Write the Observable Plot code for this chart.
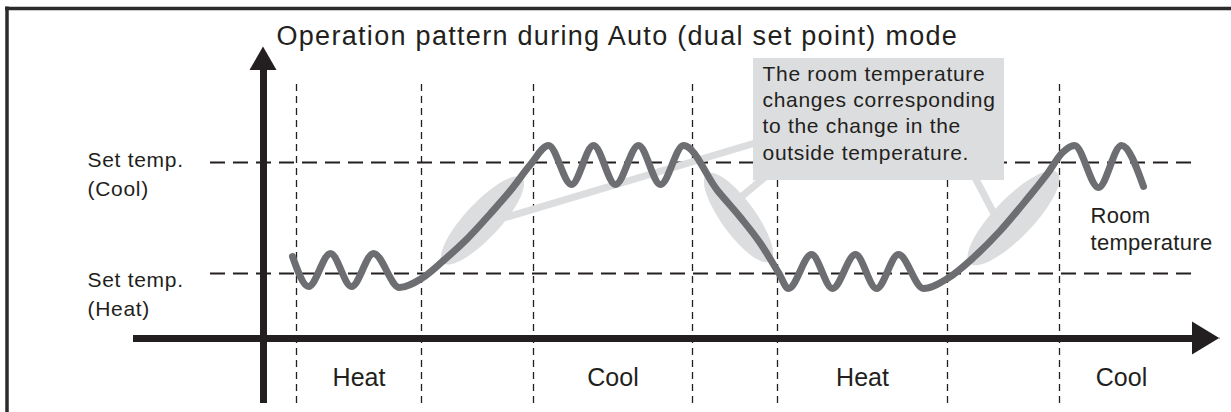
<!DOCTYPE html>
<html>
<head>
<meta charset="utf-8">
<script src="https://cdn.jsdelivr.net/npm/d3@7"></script>
<script src="https://cdn.jsdelivr.net/npm/@observablehq/plot@0.6"></script>
<style>
  html, body { margin: 0; padding: 0; background: #fff; }
  svg { display: block; }
</style>
</head>
<body>
<div id="chart"></div>
<script>
// ---------------- data ----------------
// time: arbitrary units (0 = vertical axis); temperature: relative units (0 = time axis)
const titleText = "Operation pattern during Auto (dual set point) mode";

const setPointLabels = ["Set temp.\n(Cool)", "Set temp.\n(Heat)"];
const setPointValues = [17.6, 6.5];

const modeNames = ["Heat", "Cool", "Heat", "Cool"];
const modeStart = [3.3, 27.0, 51.4, 79.6];
const modeEnd   = [15.8, 42.9, 68.4, 92.0];   // last mode continues past the chart

const roomTime = [2.9, 4.5, 6.7, 8.8, 11.0, 13.6, 15.8, 18.0, 20.4, 22.7, 24.7, 26.7, 28.5,
                  30.8, 33.0, 35.2, 37.5, 39.7, 42.0, 45.4, 47.7, 49.7, 51.5, 52.5,
                  54.8, 56.9, 59.2, 61.3, 63.5, 66.0, 68.4, 71.0, 73.7, 76.4, 78.4, 79.9, 81.1,
                  83.5, 85.8, 88.0];
const roomTemp = [8.2, 5.2, 8.5, 5.2, 8.5, 5.1, 6.0, 7.8, 10.0, 12.5, 14.8, 17.4, 19.3,
                  15.4, 19.3, 15.4, 19.3, 15.4, 19.3, 14.8, 12.1, 9.5, 6.6, 5.0,
                  8.4, 5.0, 8.4, 5.0, 8.4, 5.0, 6.0, 8.1, 10.8, 14.0, 16.5, 18.6, 19.3,
                  15.1, 19.3, 15.2];

// highlighted transitions (outside-temperature driven changes)
const highlightTime   = [21.9, 47.5, 75.0];
const highlightTemp   = [11.8, 12.1, 12.05];
const highlightLength = [5.8, 5.4, 6.3];
const highlightWidth  = [1.75, 1.7, 1.95];
const highlightAngle  = [47, -54, 46];

const calloutText = "The room temperature\nchanges corresponding\nto the change in the\noutside temperature.";
const seriesLabel = "Room\ntemperature";

// ---------------- layout ----------------
const FONT = "'Liberation Sans', Arial, Helvetica, sans-serif";
const INK = "#231f20";
const CURVE = "#6d6e71";
const LIGHT = "#dcdddf";

const room = roomTime.map((t, i) => ({t, v: roomTemp[i]}));
const modes = modeNames.map((name, i) => ({name, start: modeStart[i], end: modeEnd[i]}));
const boundaries = modeStart.concat(modeEnd.slice(0, -1));

const ellipsePts = highlightTime.flatMap((cx, i) => {
  const a = highlightLength[i], b = highlightWidth[i], th = highlightAngle[i] * Math.PI / 180;
  return d3.range(0, 360, 5).map(deg => {
    const u = deg * Math.PI / 180;
    return {
      id: i,
      x: cx + a * Math.cos(u) * Math.cos(th) - b * Math.sin(u) * Math.sin(th),
      y: highlightTemp[i] + a * Math.cos(u) * Math.sin(th) + b * Math.sin(u) * Math.cos(th)
    };
  });
});

const calloutBox = {x1: 49.0, x2: 74.1, y1: 15.8, y2: 28.0};
const connectors = [
  {id: 0, pts: [[23.2, 11.8], [50.5, 19.95]]},
  {id: 1, pts: [[47.7, 14.1], [51.3, 17.1]]},
  {id: 2, pts: [[73.2, 12.2], [71.2, 16.0]]}
].flatMap(c => c.pts.map(([x, y]) => ({id: c.id, x, y})));

const svg = Plot.plot({
  width: 1231,
  height: 412,
  margin: 0,
  x: {domain: [-26.3, 96.8], axis: null},
  y: {domain: [-7.4, 33.8], axis: null},
  style: {fontFamily: FONT, background: "#fff"},
  marks: [
    // frame (top and left edges)
    Plot.ruleY([33.0], {x1: -25.8, x2: 96.8, stroke: "#2b2b2b", strokeWidth: 3.5}),
    Plot.ruleX([-25.65], {y1: -7.4, y2: 33.15, stroke: "#2b2b2b", strokeWidth: 3.5}),

    // mode boundaries
    Plot.ruleX(boundaries, {x: d => d, y1: -6.5, y2: 25.8, stroke: INK, strokeWidth: 1.3, strokeDasharray: "7,5"}),
    // set points
    Plot.ruleY(setPointValues, {y: d => d, x1: -5.3, x2: 93.2, stroke: INK, strokeWidth: 2, strokeDasharray: "15,8"}),

    // highlight ellipses, connectors and callout box
    Plot.line(ellipsePts, {x: "x", y: "y", z: "id", fill: LIGHT, stroke: "none"}),
    Plot.line(connectors, {x: "x", y: "y", z: "id", stroke: LIGHT, strokeWidth: 7}),
    Plot.rect([calloutBox], {x1: "x1", x2: "x2", y1: "y1", y2: "y2", fill: LIGHT}),

    // axes with arrowheads
    Plot.ruleX([0], {y1: -6.5, y2: 26.9, stroke: INK, strokeWidth: 7}),
    Plot.areaX([{y: 26.8, x1: -1.35, x2: 1.35}, {y: 29.15, x1: 0, x2: 0}], {y: "y", x1: "x1", x2: "x2", fill: INK}),
    Plot.ruleY([0], {x1: -13, x2: 93.0, stroke: INK, strokeWidth: 7}),
    Plot.areaY([{x: 92.9, y1: -1.65, y2: 1.65}, {x: 95.7, y1: 0.05, y2: -0.05}], {x: "x", y1: "y1", y2: "y2", fill: INK}),

    // room temperature
    Plot.line(room, {x: "t", y: "v", curve: "monotone-x", stroke: CURVE, strokeWidth: 7,
                     strokeLinecap: "round", strokeLinejoin: "round"}),

    // texts
    Plot.text([titleText], {x: 1.3, y: 29.4, text: d => d, textAnchor: "start", lineAnchor: "bottom",
                            fontSize: 27, fill: INK, fontFamily: FONT}),
    Plot.text(setPointLabels, {x: -17.6, y: (d, i) => [14.3, 2.3][i], text: d => d, textAnchor: "start",
                               lineAnchor: "bottom", lineHeight: 1.36, fontSize: 21, fill: INK, fontFamily: FONT}),
    Plot.text([calloutText], {x: 49.9, y: 17.9, text: d => d, textAnchor: "start", lineAnchor: "bottom",
                              lineHeight: 1.25, fontSize: 21, fill: INK, fontFamily: FONT}),
    Plot.text([seriesLabel], {x: 82.7, y: 8.9, text: d => d, textAnchor: "start", lineAnchor: "bottom",
                              lineHeight: 1.2, fontSize: 22, fill: INK, fontFamily: FONT}),
    Plot.text(modes, {x: d => (d.start + d.end) / 2, y: -4.7, text: "name", textAnchor: "middle",
                      lineAnchor: "bottom", fontSize: 25, fill: INK, fontFamily: FONT})
  ]
});

// letter spacing per text size (reference type is slightly wide-set)
const spacing = {27: "1.3px", 21: "0.7px", 22: "0.3px", 25: "0px"};
d3.select(svg).selectAll("g").each(function () {
  const fs = this.getAttribute("font-size");
  if (fs && spacing[+fs] !== undefined) this.setAttribute("letter-spacing", spacing[+fs]);
});

document.getElementById("chart").appendChild(svg);
</script>
</body>
</html>
